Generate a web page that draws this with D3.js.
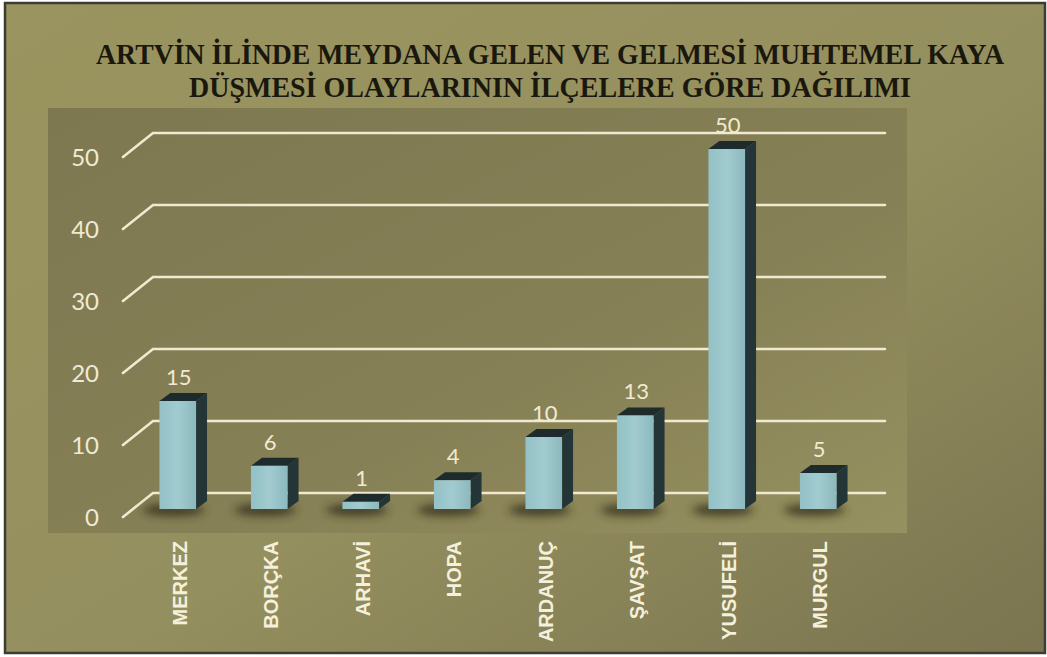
<!DOCTYPE html>
<html>
<head>
<meta charset="utf-8">
<script src="https://cdn.jsdelivr.net/npm/d3@7"></script>
<style>
  html, body { margin: 0; padding: 0; background: #fff; }
  svg { display: block; }
</style>
</head>
<body>
<svg id="chart" width="1047" height="657"></svg>
<script>
// Veriler
const baslikSatirlari = [
  "ARTVİN İLİNDE MEYDANA GELEN VE GELMESİ MUHTEMEL KAYA",
  "DÜŞMESİ OLAYLARININ İLÇELERE  GÖRE DAĞILIMI"
];
const ilceler = ["MERKEZ", "BORÇKA", "ARHAVİ", "HOPA", "ARDANUÇ", "ŞAVŞAT", "YUSUFELİ", "MURGUL"];
const olaySayisi = [15, 6, 1, 4, 10, 13, 50, 5];
const yEtiketleri = [0, 10, 20, 30, 40, 50];

const svg = d3.select("#chart");
const defs = svg.append("defs");

// Arka plan gradyanları
const dis = defs.append("linearGradient").attr("id", "dis")
  .attr("x1", "0").attr("y1", "0").attr("x2", "1").attr("y2", "1");
dis.append("stop").attr("offset", "0").attr("stop-color", "#9a955f");
dis.append("stop").attr("offset", "0.55").attr("stop-color", "#948f5e");
dis.append("stop").attr("offset", "1").attr("stop-color", "#7a7450");

const panel = defs.append("linearGradient").attr("id", "panel")
  .attr("x1", "0").attr("y1", "0").attr("x2", "1").attr("y2", "1");
panel.append("stop").attr("offset", "0").attr("stop-color", "#7e7851");
panel.append("stop").attr("offset", "0.6").attr("stop-color", "#868056");
panel.append("stop").attr("offset", "1").attr("stop-color", "#969160");

const on = defs.append("linearGradient").attr("id", "onYuz")
  .attr("x1", "0").attr("y1", "0").attr("x2", "1").attr("y2", "0");
on.append("stop").attr("offset", "0").attr("stop-color", "#93c1c6");
on.append("stop").attr("offset", "0.5").attr("stop-color", "#a1cbcf");
on.append("stop").attr("offset", "1").attr("stop-color", "#8cb9be");

defs.append("filter").attr("id", "bulanik")
  .attr("x", "-50%").attr("y", "-100%").attr("width", "200%").attr("height", "300%")
  .append("feGaussianBlur").attr("stdDeviation", 4);

// Çerçeve
svg.append("rect")
  .attr("x", 5).attr("y", 3).attr("width", 1040).attr("height", 650)
  .attr("fill", "url(#dis)")
  .attr("stroke", "#3c3c34").attr("stroke-width", 2.5);

// Grafik paneli
svg.append("rect")
  .attr("x", 48).attr("y", 108).attr("width", 859).attr("height", 425)
  .attr("fill", "url(#panel)");

// Başlık (dikey olarak biraz uzatılmış, dar görünüm için)
svg.append("g").selectAll("text")
  .data(baslikSatirlari)
  .join("text")
  .attr("transform", (d, i) => `translate(550,${64 + i * 33}) scale(1,1.18)`)
  .attr("text-anchor", "middle")
  .attr("textLength", (d, i) => i === 0 ? 908 : 722)
  .attr("lengthAdjust", "spacingAndGlyphs")
  .attr("font-family", "'Liberation Serif', 'Times New Roman', serif")
  .attr("font-weight", "bold")
  .attr("font-size", 25)
  .attr("fill", "#1a180e")
  .text(d => d);

// Ölçekler
const x = d3.scaleBand()
  .domain(ilceler)
  .range([132, 864])
  .paddingInner(0.6)
  .paddingOuter(0.3);

const y = d3.scaleLinear()
  .domain([0, 50])
  .range([509, 149]);

const derinlik = { dx: 11, dy: -8 };   // çubuk derinliği
const duvar = { x0: 153, x1: 885, geri: -16, on: 8, onX: 123 };

// Izgara çizgileri (arka duvar + sol kenar)
const izgara = svg.append("g")
  .attr("stroke", "#f1ead0")
  .attr("stroke-width", 2.6)
  .attr("fill", "none")
  .attr("stroke-linecap", "round");

izgara.selectAll("path")
  .data(yEtiketleri)
  .join("path")
  .attr("d", d => {
    const yb = y(d) + duvar.geri;
    const yf = y(d) + duvar.on;
    return `M${duvar.onX},${yf}L${duvar.x0},${yb}L${duvar.x1},${yb}`;
  });

// Y ekseni etiketleri
svg.append("g").selectAll("text")
  .data(yEtiketleri)
  .join("text")
  .attr("x", 99)
  .attr("y", d => y(d) + duvar.on + 1)
  .attr("dy", "0.35em")
  .attr("text-anchor", "end")
  .attr("font-family", "Lato, 'Open Sans', sans-serif")
  .attr("font-size", 24)
  .attr("fill", "#f1ead0")
  .text(d => d);

const veri = ilceler.map((ad, i) => ({ ad, deger: olaySayisi[i] }));

// Çubuk gölgeleri
svg.append("g").selectAll("ellipse")
  .data(veri)
  .join("ellipse")
  .attr("cx", d => x(d.ad) + x.bandwidth() / 2 - 4)
  .attr("cy", y(0) + 1)
  .attr("rx", x.bandwidth() * 0.85)
  .attr("ry", 6)
  .attr("fill", "#2c2815")
  .attr("opacity", 0.75)
  .attr("filter", "url(#bulanik)");

// 3B çubuklar
const cubuk = svg.append("g").selectAll("g")
  .data(veri)
  .join("g");

// yan yüz
cubuk.append("path")
  .attr("fill", "#243537")
  .attr("d", d => {
    const x1 = x(d.ad) + x.bandwidth();
    const yt = y(d.deger), yb = y(0);
    return `M${x1},${yt}L${x1 + derinlik.dx},${yt + derinlik.dy}L${x1 + derinlik.dx},${yb + derinlik.dy}L${x1},${yb}Z`;
  });

// üst yüz
cubuk.append("path")
  .attr("fill", "#1d2b2c")
  .attr("d", d => {
    const x0 = x(d.ad), x1 = x0 + x.bandwidth();
    const yt = y(d.deger);
    return `M${x0},${yt}L${x0 + derinlik.dx},${yt + derinlik.dy}L${x1 + derinlik.dx},${yt + derinlik.dy}L${x1},${yt}Z`;
  });

// ön yüz
cubuk.append("rect")
  .attr("x", d => x(d.ad))
  .attr("y", d => y(d.deger))
  .attr("width", x.bandwidth())
  .attr("height", d => y(0) - y(d.deger))
  .attr("fill", "url(#onYuz)");

// Değer etiketleri
svg.append("g").selectAll("text")
  .data(veri)
  .join("text")
  .attr("x", d => x(d.ad) + x.bandwidth() / 2 + 1)
  .attr("y", d => y(d.deger) + derinlik.dy - 8)
  .attr("text-anchor", "middle")
  .attr("font-family", "Lato, 'Open Sans', sans-serif")
  .attr("font-size", 22)
  .attr("fill", "#f1ead0")
  .text(d => d.deger);

// İlçe adları (dikey)
svg.append("g").selectAll("text")
  .data(veri)
  .join("text")
  .attr("transform", d => `translate(${x(d.ad) + x.bandwidth() / 2 + 2},541) rotate(-90)`)
  .attr("dy", "0.35em")
  .attr("text-anchor", "end")
  .attr("font-family", "'Liberation Sans', Arial, sans-serif")
  .attr("font-weight", "bold")
  .attr("font-size", 20)
  .attr("fill", "#f4f0dc")
  .text(d => d.ad);
</script>
</body>
</html>
